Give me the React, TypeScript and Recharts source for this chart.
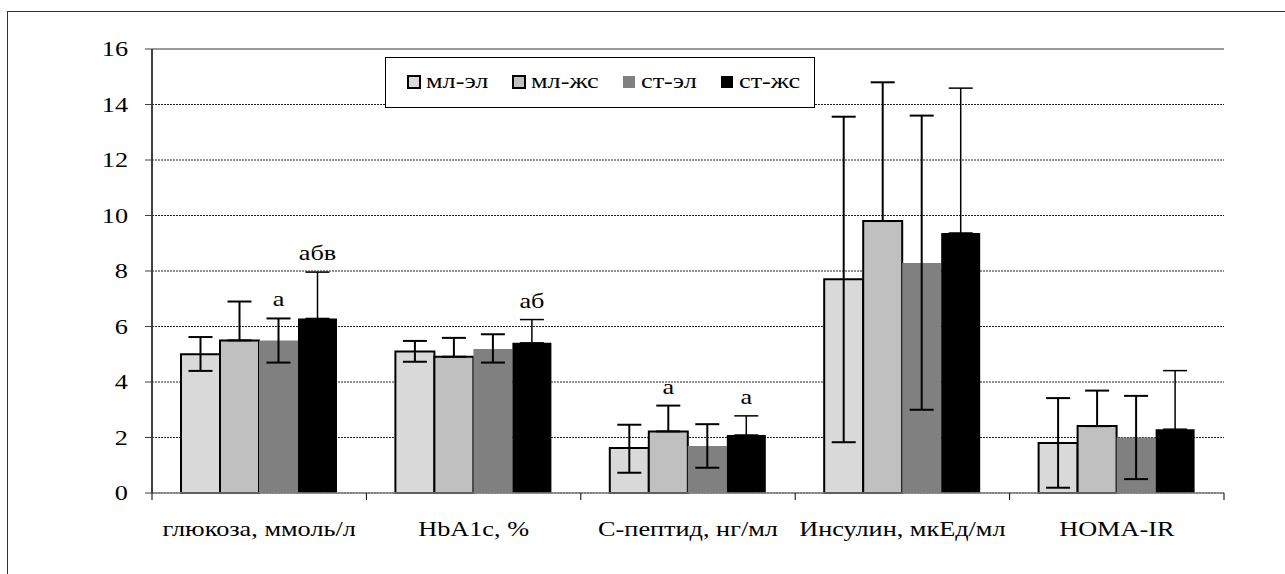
import React from "react";
import {
  Bar,
  BarChart,
  CartesianGrid,
  ErrorBar,
  LabelList,
  Legend,
  ReferenceLine,
  XAxis,
  YAxis,
} from "recharts";

const categories = [
  "глюкоза, ммоль/л",
  "HbA1c, %",
  "С-пептид, нг/мл",
  "Инсулин, мкЕд/мл",
  "HOMA-IR",
];

// means
const mlEl = [5.0, 5.1, 1.62, 7.7, 1.8];
const mlZh = [5.5, 4.91, 2.22, 9.8, 2.41];
const stEl = [5.5, 5.19, 1.69, 8.29, 2.0];
const stZh = [6.29, 5.41, 2.09, 9.37, 2.3];

// whisker ends
const mlElLow = [4.4, 4.73, 0.73, 1.83, 0.19];
const mlElHigh = [5.62, 5.48, 2.46, 13.56, 3.42];
const mlZhHigh = [6.9, 5.59, 3.15, 14.8, 3.69];
const stElLow = [4.7, 4.7, 0.91, 3.0, 0.5];
const stElHigh = [6.29, 5.72, 2.48, 13.6, 3.5];
const stZhHigh = [7.96, 6.25, 2.78, 14.59, 4.41];

// significance marks
const mlZhMarks = ["", "", "а", "", ""];
const stElMarks = ["а", "", "", "", ""];
const stZhMarks = ["абв", "аб", "а", "", ""];

const yTicks = [0, 2, 4, 6, 8, 10, 12, 14, 16];

const data = categories.map((name, i) => ({
  name,
  mlEl: mlEl[i],
  mlZh: mlZh[i],
  stEl: stEl[i],
  stZh: stZh[i],
  mlElErr: [mlEl[i] - mlElLow[i], mlElHigh[i] - mlEl[i]],
  mlZhErr: [0, mlZhHigh[i] - mlZh[i]],
  stElErr: [stEl[i] - stElLow[i], stElHigh[i] - stEl[i]],
  stZhErr: [0, stZhHigh[i] - stZh[i]],
}));

const FONT = '"Liberation Serif", "DejaVu Serif", serif';
const SX = 1.25;
const txt = { fontFamily: FONT, fontSize: 21, fill: "#000" };

// band width of one category in the plot (1224 - 152) / 5
const BAND = 1072 / categories.length;
const X_MARGIN = 28;

const XTick = ({ x, y, payload, index }: any) => {
  const axisY = y - X_MARGIN;
  return (
    <g>
      <line x1={x - BAND / 2} x2={x - BAND / 2} y1={axisY} y2={axisY + 7} stroke="#000" />
      {index === categories.length - 1 && (
        <line x1={x + BAND / 2} x2={x + BAND / 2} y1={axisY} y2={axisY + 7} stroke="#000" />
      )}
      <text
        transform={`translate(${x},${y}) scale(${SX},1)`}
        textAnchor="middle"
        dy="0.71em"
        style={txt}
      >
        {payload.value}
      </text>
    </g>
  );
};

const YTick = ({ x, y, payload }: any) => (
  <text
    transform={`translate(${x},${y}) scale(${SX},1)`}
    textAnchor="end"
    dy="0.35em"
    style={txt}
  >
    {payload.value}
  </text>
);

const makeMark =
  (marks: string[], means: number[], highs: number[]) => (props: any) => {
    const { x, y, width, height, index } = props;
    const t = marks[index];
    if (!t) return null;
    const perUnit = Number(height) / means[index];
    const top = Number(y) - (highs[index] - means[index]) * perUnit;
    return (
      <text
        transform={`translate(${Number(x) + Number(width) / 2},${top - 12}) scale(${SX},1)`}
        textAnchor="middle"
        style={txt}
      >
        {t}
      </text>
    );
  };

const legendItems = [
  { label: "мл-эл", fill: "#d9d9d9", stroke: "#000", x: 23 },
  { label: "мл-жс", fill: "#c0c0c0", stroke: "#000", x: 128 },
  { label: "ст-эл", fill: "#808080", stroke: "none", x: 238 },
  { label: "ст-жс", fill: "#000000", stroke: "none", x: 336 },
];

const LegendBox = () => (
  <svg width={430} height={51} style={{ display: "block" }}>
    <rect x={0.5} y={0.5} width={429} height={50} fill="#fff" stroke="#000" />
    {legendItems.map((it) => (
      <g key={it.label}>
        <rect
          x={it.x}
          y={19}
          width={12}
          height={12}
          fill={it.fill}
          stroke={it.stroke}
          strokeWidth={2}
        />
        <text transform={`translate(${it.x + 18},31) scale(${SX},1)`} style={txt}>
          {it.label}
        </text>
      </g>
    ))}
  </svg>
);

export default function App() {
  return (
    <div
      style={{
        position: "absolute",
        left: 0,
        top: 0,
        width: 1285,
        height: 574,
        overflow: "hidden",
        background: "#fff",
        fontFamily: FONT,
      }}
    >
      <div
        style={{
          position: "absolute",
          left: 7,
          top: 11,
          width: 1300,
          height: 600,
          border: "1px solid #333",
        }}
      />
      <div style={{ position: "absolute", left: 0, top: 0 }}>
        <BarChart
          width={1285}
          height={574}
          data={data}
          margin={{ top: 49, right: 61, bottom: 21, left: 0 }}
          barCategoryGap={29}
          barGap={0}
          style={{ fontFamily: FONT }}
        >
          <CartesianGrid
            vertical={false}
            stroke="#222"
            strokeDasharray="2 1"
            yAxisId="left"
            xAxisId="main"
          />
          <XAxis
            dataKey="name"
            xAxisId="main"
            height={60}
            tickLine={false}
            tickSize={0}
            tickMargin={X_MARGIN}
            axisLine={{ stroke: "#808080", strokeWidth: 1.5 }}
            tick={<XTick />}
            interval={0}
          />
          <YAxis
            yAxisId="left"
            width={152}
            domain={[0, 16]}
            ticks={yTicks}
            interval={0}
            tickSize={7}
            tickMargin={17}
            axisLine={{ stroke: "#404040", strokeWidth: 2 }}
            tickLine={{ stroke: "#404040" }}
            tick={<YTick />}
          />
          <YAxis
            yAxisId="right"
            orientation="right"
            width={0}
            domain={[0, 16]}
            tick={false}
            tickLine={false}
            axisLine={{ stroke: "#999", strokeWidth: 2 }}
          />
          <ReferenceLine
            y={16}
            yAxisId="left"
            xAxisId="main"
            stroke="#999"
            strokeWidth={2}
          />
          <Legend
            layout="horizontal"
            verticalAlign="middle"
            align="center"
            content={<LegendBox />}
            wrapperStyle={{
              position: "absolute",
              left: 385,
              top: 57,
              width: 430,
              height: 51,
            }}
          />
          <Bar
            dataKey="mlEl"
            name="мл-эл"
            xAxisId="main"
            yAxisId="left"
            fill="#d9d9d9"
            stroke="#000"
            strokeWidth={2}
            isAnimationActive={false}
          >
            <ErrorBar dataKey="mlElErr" width={12} stroke="#000" strokeWidth={2} />
          </Bar>
          <Bar
            dataKey="mlZh"
            name="мл-жс"
            xAxisId="main"
            yAxisId="left"
            fill="#c0c0c0"
            stroke="#000"
            strokeWidth={2}
            isAnimationActive={false}
          >
            <ErrorBar dataKey="mlZhErr" width={12} stroke="#000" strokeWidth={2} />
            <LabelList dataKey="mlZh" content={makeMark(mlZhMarks, mlZh, mlZhHigh)} />
          </Bar>
          <Bar
            dataKey="stEl"
            name="ст-эл"
            xAxisId="main"
            yAxisId="left"
            fill="#808080"
            isAnimationActive={false}
          >
            <ErrorBar dataKey="stElErr" width={12} stroke="#000" strokeWidth={2} />
            <LabelList dataKey="stEl" content={makeMark(stElMarks, stEl, stElHigh)} />
          </Bar>
          <Bar
            dataKey="stZh"
            name="ст-жс"
            xAxisId="main"
            yAxisId="left"
            fill="#000000"
            isAnimationActive={false}
          >
            <ErrorBar dataKey="stZhErr" width={12} stroke="#000" strokeWidth={1.5} />
            <LabelList dataKey="stZh" content={makeMark(stZhMarks, stZh, stZhHigh)} />
          </Bar>
        </BarChart>
      </div>
    </div>
  );
}
